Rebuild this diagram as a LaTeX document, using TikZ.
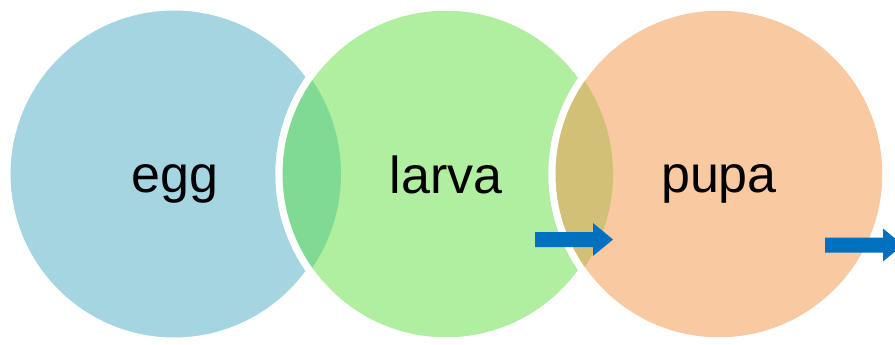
\documentclass[tikz,border=0pt]{standalone}
\usepackage{fontspec}
\setmainfont{Liberation Sans}
\definecolor{eggfill}{RGB}{166,213,226}
\definecolor{larvafill}{RGB}{176,238,160}
\definecolor{egglarva}{RGB}{128,218,148}
\definecolor{pupafill}{RGB}{249,201,162}
\definecolor{larvapupa}{RGB}{210,192,118}
\definecolor{arrowblue}{RGB}{0,112,192}
\begin{document}
\begin{tikzpicture}[x=1pt,y=-1pt,
  stage/.style={font=\fontsize{52}{62}\selectfont, anchor=base, inner sep=0pt},
  ring/.style={draw=white, line width=7pt},
  blockarrow/.style={fill=arrowblue, draw=none}]
\useasboundingbox (0,0) rectangle (895,345);
\clip (0,0) rectangle (895,345);
% circle centres
\coordinate (ce) at (174,174);
\coordinate (cl) at (446,174);
\coordinate (cp) at (719,174);
\def\rad{167pt}
% egg
\filldraw[fill=eggfill, ring] (ce) circle (\rad);
% larva, with its overlap on the egg
\filldraw[fill=larvafill, ring] (cl) circle (\rad);
\begin{scope}
  \clip (ce) circle (\rad);
  \fill[egglarva] (cl) circle (\rad);
\end{scope}
\draw[ring] (cl) circle (\rad);
% pupa, with its overlap on the larva
\filldraw[fill=pupafill, ring] (cp) circle (\rad);
\begin{scope}
  \clip (cl) circle (\rad);
  \fill[larvapupa] (cp) circle (\rad);
\end{scope}
\draw[ring] (cp) circle (\rad);
% stage labels
\node[stage] (egg) at (175,192) {egg};
\node[stage] (larva) at (446,193) {larva};
\node[stage] (pupa) at (719,192) {pupa};
% block arrows
\fill[blockarrow] (535,232) -- (593,232) -- (593,223) -- (613,239.5)
  -- (593,256) -- (593,247) -- (535,247) -- cycle;
\fill[blockarrow] (825,237.5) -- (883,237.5) -- (883,228.5) -- (903,245)
  -- (883,261.5) -- (883,252.5) -- (825,252.5) -- cycle;
\end{tikzpicture}
\end{document}
